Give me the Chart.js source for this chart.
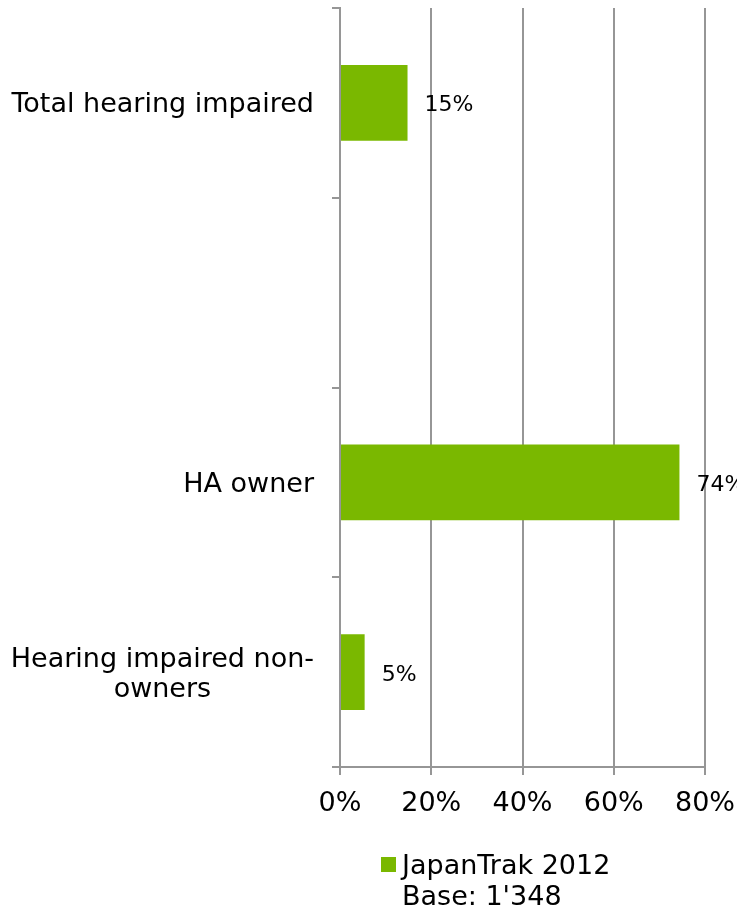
<!DOCTYPE html>
<html lang="en">
<head>
    <meta charset="UTF-8">
    <title>JapanTrak 2012</title>
    <style>
        body { margin: 0; background: #ffffff; }
        .wrap { width: 737px; height: 910px; }
    </style>
</head>
<body>
    <div class="wrap">
        <canvas id="bar-chart" width="737" height="910"></canvas>
    </div>

    <script src="https://cdn.jsdelivr.net/npm/chart.js"></script>
    <script>
        // data
        var categories = [
            ['Total hearing impaired'],
            [''],
            ['HA owner'],
            ['Hearing impaired non-', 'owners']
        ];
        var values = [14.8, null, 74.4, 5.4];
        var xTicks = [0, 20, 40, 60, 80];
        var seriesName = 'JapanTrak 2012';
        var baseNote = "Base: 1'348";

        var green = '#7ab800';
        var grey = '#969696';
        var fontFamily = '"DejaVu Sans", Verdana, sans-serif';

        // category labels: block right aligned, lines centered inside block
        var categoryLabels = {
            id: 'categoryLabels',
            afterDraw: function (chart) {
                var ctx = chart.ctx;
                var yScale = chart.scales.y;
                ctx.save();
                ctx.font = '27px ' + fontFamily;
                ctx.fillStyle = '#000000';
                ctx.textAlign = 'center';
                ctx.textBaseline = 'alphabetic';
                var lineH = 30;
                categories.forEach(function (lines, i) {
                    var y = yScale.getPixelForValue(i);
                    var w = 0;
                    lines.forEach(function (l) { w = Math.max(w, ctx.measureText(l).width); });
                    var cx = 314 - w / 2;
                    var startY = y + 9.5 - (lines.length - 1) * lineH / 2;
                    lines.forEach(function (l, j) {
                        ctx.fillText(l, cx, startY + j * lineH);
                    });
                });
                ctx.restore();
            }
        };

        // value labels to the right of each bar
        var valueLabels = {
            id: 'valueLabels',
            afterDatasetsDraw: function (chart) {
                var ctx = chart.ctx;
                var meta = chart.getDatasetMeta(0);
                ctx.save();
                ctx.font = '22px ' + fontFamily;
                ctx.fillStyle = '#000000';
                ctx.textAlign = 'left';
                ctx.textBaseline = 'alphabetic';
                meta.data.forEach(function (bar, i) {
                    if (values[i] === null) return;
                    ctx.fillText(Math.round(values[i]) + '%', bar.x + 17, bar.y + 8.5);
                });
                ctx.restore();
            }
        };

        // legend with two text lines
        var legendBox = {
            id: 'legendBox',
            afterDraw: function (chart) {
                var ctx = chart.ctx;
                ctx.save();
                ctx.fillStyle = green;
                ctx.fillRect(381, 857, 15, 15);
                ctx.font = '27px ' + fontFamily;
                ctx.fillStyle = '#000000';
                ctx.textAlign = 'left';
                ctx.textBaseline = 'alphabetic';
                ctx.fillText(seriesName, 402, 874);
                ctx.fillText(baseNote, 402, 905);
                ctx.restore();
            }
        };

        var data = {
            labels: categories,
            datasets: [{
                label: seriesName,
                data: values,
                backgroundColor: green,
                barPercentage: 0.4,
                categoryPercentage: 1.0
            }]
        };

        var options = {
            indexAxis: 'y',
            responsive: false,
            animation: false,
            layout: { padding: { top: 8, right: 32, left: 0, bottom: 0 } },
            plugins: {
                legend: { display: false },
                tooltip: { enabled: false }
            },
            scales: {
                x: {
                    min: 0,
                    max: 80,
                    afterBuildTicks: function (scale) {
                        scale.ticks = xTicks.map(function (v) { return { value: v }; });
                    },
                    afterFit: function (scale) {
                        scale.height = 143;
                        scale.paddingLeft = 0;
                        scale.paddingRight = 0;
                    },
                    ticks: {
                        color: '#000000',
                        padding: 13,
                        font: { family: fontFamily, size: 27 },
                        callback: function (v) { return v + '%'; }
                    },
                    grid: { color: grey, lineWidth: 2, tickLength: 8 },
                    border: { color: grey, width: 2 }
                },
                y: {
                    afterFit: function (scale) {
                        scale.width = 340;
                        scale.paddingTop = 0;
                        scale.paddingBottom = 0;
                    },
                    ticks: { display: false },
                    grid: { color: grey, lineWidth: 2, tickLength: 8, drawOnChartArea: false, offset: true },
                    border: { color: grey, width: 2 }
                }
            }
        };

        var ctx = document.getElementById('bar-chart').getContext('2d');
        var myBarChart = new Chart(ctx, {
            type: 'bar',
            data: data,
            options: options,
            plugins: [categoryLabels, valueLabels, legendBox]
        });
    </script>
</body>
</html>
